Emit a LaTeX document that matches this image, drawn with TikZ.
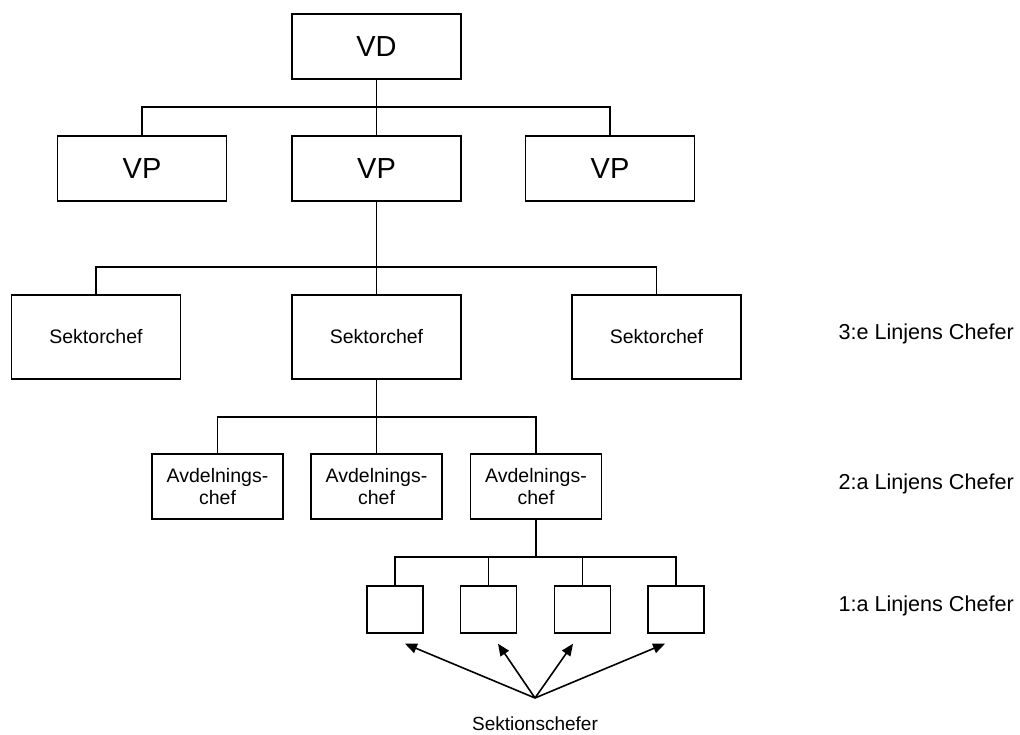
\documentclass[tikz,border=0pt]{standalone}
\usepackage{fontspec}
\setmainfont{Liberation Sans}
\usetikzlibrary{arrows.meta,calc}

\begin{document}
\begin{tikzpicture}[x=1pt,y=-1pt,
  box/.style={draw, line width=1.4pt, inner sep=0pt, align=center},
  bigbox/.style={box, minimum width=169pt, minimum height=65pt, font=\fontsize{29}{34}\selectfont},
  sekbox/.style={box, minimum width=169pt, minimum height=84pt, font=\fontsize{19.5}{22}\selectfont},
  avdbox/.style={box, minimum width=131pt, minimum height=65pt, font=\fontsize{19.5}{22}\selectfont},
  smallbox/.style={box, minimum width=56pt, minimum height=47pt},
  link/.style={line width=1.4pt},
  pointer/.style={line width=1.6pt, -{Triangle[length=12pt,width=10pt]}},
  level/.style={anchor=base west, font=\fontsize{21.6}{26}\selectfont},
]
\useasboundingbox (0,0) rectangle (1020,734);

% top management
\node[bigbox] (vd) at (376.5,46.5) {VD};
\node[bigbox] (vpL) at (142,168.5) {VP};
\node[bigbox] (vpM) at (376.5,168.5) {VP};
\node[bigbox] (vpR) at (610,168.5) {VP};

% sector heads
\node[sekbox] (sekL) at (96,337) {Sektorchef};
\node[sekbox] (sekM) at (376.5,337) {Sektorchef};
\node[sekbox] (sekR) at (656.5,337) {Sektorchef};

% department heads
\node[avdbox] (avdL) at (217.5,486.5) {Avdelnings-\\chef};
\node[avdbox] (avdM) at (376.5,486.5) {Avdelnings-\\chef};
\node[avdbox] (avdR) at (536,486.5) {Avdelnings-\\chef};

% section heads
\node[smallbox] (s1) at (395,609.5) {};
\node[smallbox] (s2) at (488.5,609.5) {};
\node[smallbox] (s3) at (582.5,609.5) {};
\node[smallbox] (s4) at (676,609.5) {};

% junctions of the tree lines
\coordinate (j1) at (376.5,107);
\coordinate (j2) at (376.5,267);
\coordinate (j3) at (376.5,417);
\coordinate (j4) at (536,557);

\draw[link] (vd.south) -- (vpM.north);
\draw[link] (vpL.north) |- (j1) -| (vpR.north);

\draw[link] (vpM.south) -- (sekM.north);
\draw[link] (sekL.north) |- (j2) -| (sekR.north);

\draw[link] (sekM.south) -- (avdM.north);
\draw[link] (avdL.north) |- (j3) -| (avdR.north);

\draw[link] (avdR.south) -- (j4);
\draw[link] (s1.north) |- (j4) -| (s4.north);
\draw[link] (s2.north) -- (s2.north |- j4);
\draw[link] (s3.north) -- (s3.north |- j4);

% level labels
\node[level] (l3) at (835,339) {3:e Linjens Chefer};
\node[level] (l2) at (835,489) {2:a Linjens Chefer};
\node[level] (l1) at (835,611) {1:a Linjens Chefer};

% section heads label and pointers
\node[anchor=base, font=\fontsize{19}{22}\selectfont] (sek) at (535,730) {Sektionschefer};
\coordinate (src) at (535,698);
\draw[pointer] (src) -- ($(s1.south)+(10,10)$);
\draw[pointer] (src) -- ($(s2.south)+(9.5,10)$);
\draw[pointer] (src) -- ($(s3.south)+(-9.5,10)$);
\draw[pointer] (src) -- ($(s4.south)+(-11,10)$);
\end{tikzpicture}
\end{document}
